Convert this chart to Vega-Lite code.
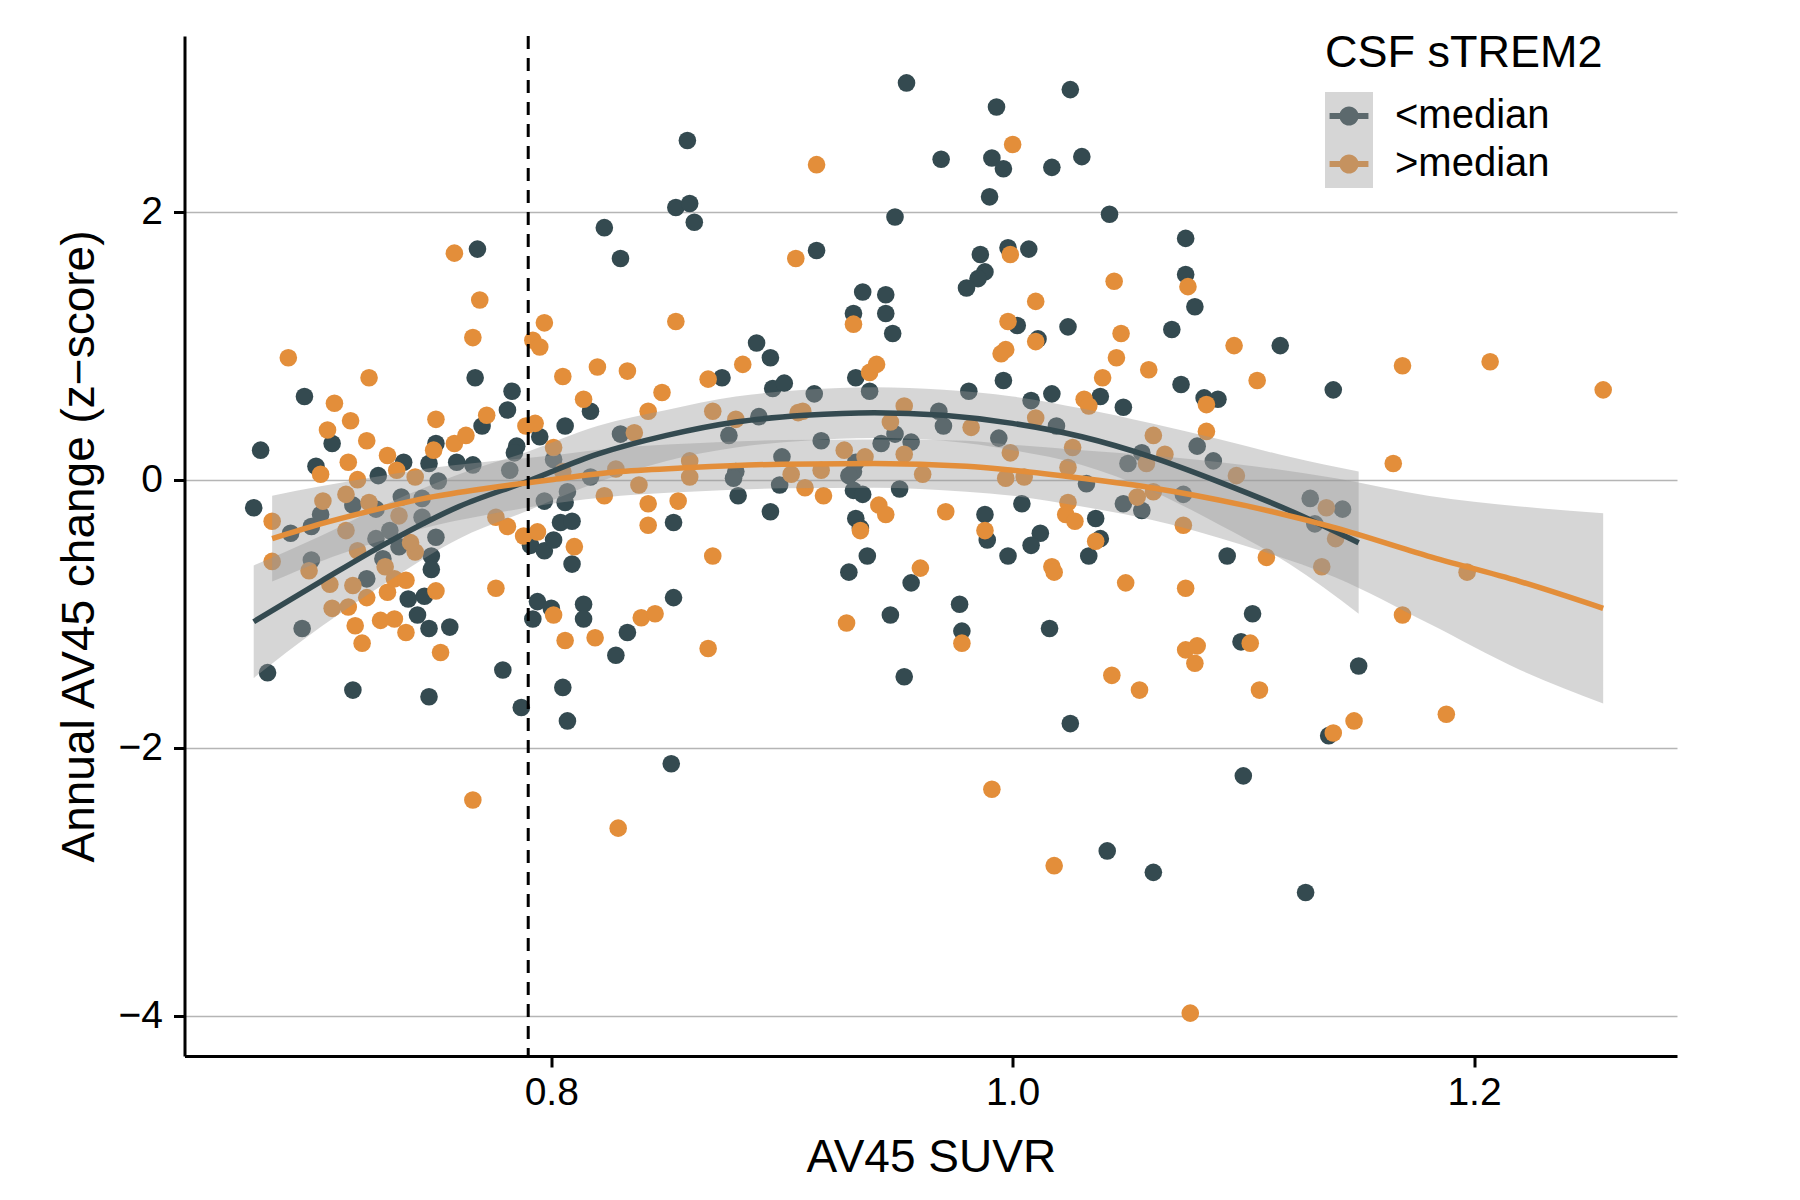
{
  "$schema": "https://vega.github.io/schema/vega-lite/v6.json",
  "autosize": {"type": "none"},
  "padding": {"left": 184.5, "top": 36, "right": 123, "bottom": 144},
  "width": 1492.5,
  "height": 1020,
  "background": "white",
  "datasets": {
    "pts": [
      {"suvr":0.674,"change":0.22,"group":"<median"},{"suvr":0.671,"change":-0.21,"group":"<median"},{"suvr":0.693,"change":0.62,"group":"<median"},
      {"suvr":0.687,"change":-0.40,"group":"<median"},{"suvr":0.696,"change":-0.35,"group":"<median"},{"suvr":0.696,"change":-0.60,"group":"<median"},
      {"suvr":0.698,"change":0.10,"group":"<median"},{"suvr":0.705,"change":0.27,"group":"<median"},{"suvr":0.714,"change":-0.19,"group":"<median"},
      {"suvr":0.700,"change":-0.26,"group":"<median"},{"suvr":0.725,"change":0.03,"group":"<median"},{"suvr":0.736,"change":0.13,"group":"<median"},
      {"suvr":0.724,"change":-0.22,"group":"<median"},{"suvr":0.735,"change":-0.13,"group":"<median"},{"suvr":0.744,"change":-0.14,"group":"<median"},
      {"suvr":0.751,"change":-0.01,"group":"<median"},{"suvr":0.750,"change":0.27,"group":"<median"},{"suvr":0.747,"change":0.12,"group":"<median"},
      {"suvr":0.759,"change":0.13,"group":"<median"},{"suvr":0.766,"change":0.11,"group":"<median"},{"suvr":0.770,"change":0.40,"group":"<median"},
      {"suvr":0.768,"change":1.72,"group":"<median"},{"suvr":0.767,"change":0.76,"group":"<median"},{"suvr":0.783,"change":0.66,"group":"<median"},
      {"suvr":0.781,"change":0.52,"group":"<median"},{"suvr":0.785,"change":0.25,"group":"<median"},{"suvr":0.784,"change":0.20,"group":"<median"},
      {"suvr":0.782,"change":0.07,"group":"<median"},{"suvr":0.795,"change":0.32,"group":"<median"},{"suvr":0.817,"change":0.51,"group":"<median"},
      {"suvr":0.806,"change":0.40,"group":"<median"},{"suvr":0.823,"change":1.88,"group":"<median"},{"suvr":0.830,"change":1.65,"group":"<median"},
      {"suvr":0.854,"change":2.03,"group":"<median"},{"suvr":0.860,"change":2.06,"group":"<median"},{"suvr":0.862,"change":1.92,"group":"<median"},
      {"suvr":0.801,"change":0.15,"group":"<median"},{"suvr":0.807,"change":-0.09,"group":"<median"},{"suvr":0.806,"change":-0.17,"group":"<median"},
      {"suvr":0.797,"change":-0.16,"group":"<median"},{"suvr":0.817,"change":0.02,"group":"<median"},{"suvr":0.830,"change":0.34,"group":"<median"},
      {"suvr":0.853,"change":-0.32,"group":"<median"},{"suvr":0.692,"change":-1.11,"group":"<median"},{"suvr":0.677,"change":-1.44,"group":"<median"},
      {"suvr":0.714,"change":-1.57,"group":"<median"},{"suvr":0.747,"change":-1.62,"group":"<median"},{"suvr":0.720,"change":-0.74,"group":"<median"},
      {"suvr":0.724,"change":-0.44,"group":"<median"},{"suvr":0.727,"change":-0.59,"group":"<median"},{"suvr":0.730,"change":-0.38,"group":"<median"},
      {"suvr":0.734,"change":-0.50,"group":"<median"},{"suvr":0.738,"change":-0.89,"group":"<median"},{"suvr":0.745,"change":-0.87,"group":"<median"},
      {"suvr":0.742,"change":-1.01,"group":"<median"},{"suvr":0.747,"change":-1.11,"group":"<median"},{"suvr":0.756,"change":-1.10,"group":"<median"},
      {"suvr":0.748,"change":-0.57,"group":"<median"},{"suvr":0.748,"change":-0.67,"group":"<median"},{"suvr":0.750,"change":-0.43,"group":"<median"},
      {"suvr":0.744,"change":-0.28,"group":"<median"},{"suvr":0.779,"change":-1.42,"group":"<median"},{"suvr":0.787,"change":-1.70,"group":"<median"},
      {"suvr":0.852,"change":-2.12,"group":"<median"},{"suvr":0.791,"change":-0.49,"group":"<median"},{"suvr":0.797,"change":-0.53,"group":"<median"},
      {"suvr":0.801,"change":-0.45,"group":"<median"},{"suvr":0.804,"change":-0.32,"group":"<median"},{"suvr":0.809,"change":-0.31,"group":"<median"},
      {"suvr":0.809,"change":-0.63,"group":"<median"},{"suvr":0.794,"change":-0.91,"group":"<median"},{"suvr":0.800,"change":-0.96,"group":"<median"},
      {"suvr":0.792,"change":-1.04,"group":"<median"},{"suvr":0.814,"change":-0.93,"group":"<median"},{"suvr":0.814,"change":-1.04,"group":"<median"},
      {"suvr":0.828,"change":-1.31,"group":"<median"},{"suvr":0.833,"change":-1.14,"group":"<median"},{"suvr":0.853,"change":-0.88,"group":"<median"},
      {"suvr":0.805,"change":-1.55,"group":"<median"},{"suvr":0.807,"change":-1.80,"group":"<median"},{"suvr":0.859,"change":2.53,"group":"<median"},
      {"suvr":0.954,"change":2.96,"group":"<median"},{"suvr":0.993,"change":2.78,"group":"<median"},{"suvr":1.025,"change":2.91,"group":"<median"},
      {"suvr":0.969,"change":2.39,"group":"<median"},{"suvr":0.991,"change":2.40,"group":"<median"},{"suvr":0.996,"change":2.32,"group":"<median"},
      {"suvr":1.017,"change":2.33,"group":"<median"},{"suvr":1.030,"change":2.41,"group":"<median"},{"suvr":0.990,"change":2.11,"group":"<median"},
      {"suvr":0.949,"change":1.96,"group":"<median"},{"suvr":1.042,"change":1.98,"group":"<median"},{"suvr":0.915,"change":1.71,"group":"<median"},
      {"suvr":0.998,"change":1.73,"group":"<median"},{"suvr":1.007,"change":1.72,"group":"<median"},{"suvr":0.986,"change":1.68,"group":"<median"},
      {"suvr":0.988,"change":1.55,"group":"<median"},{"suvr":0.985,"change":1.50,"group":"<median"},{"suvr":0.980,"change":1.43,"group":"<median"},
      {"suvr":0.935,"change":1.40,"group":"<median"},{"suvr":0.945,"change":1.38,"group":"<median"},{"suvr":0.931,"change":1.24,"group":"<median"},
      {"suvr":0.945,"change":1.24,"group":"<median"},{"suvr":0.948,"change":1.09,"group":"<median"},{"suvr":1.002,"change":1.15,"group":"<median"},
      {"suvr":1.011,"change":1.05,"group":"<median"},{"suvr":1.024,"change":1.14,"group":"<median"},{"suvr":0.996,"change":0.74,"group":"<median"},
      {"suvr":1.038,"change":0.62,"group":"<median"},{"suvr":1.048,"change":0.54,"group":"<median"},{"suvr":1.017,"change":0.64,"group":"<median"},
      {"suvr":1.008,"change":0.59,"group":"<median"},{"suvr":1.019,"change":0.40,"group":"<median"},{"suvr":0.981,"change":0.66,"group":"<median"},
      {"suvr":0.994,"change":0.31,"group":"<median"},{"suvr":1.056,"change":0.20,"group":"<median"},{"suvr":1.050,"change":0.12,"group":"<median"},
      {"suvr":0.889,"change":1.02,"group":"<median"},{"suvr":0.895,"change":0.91,"group":"<median"},{"suvr":0.874,"change":0.76,"group":"<median"},
      {"suvr":0.896,"change":0.68,"group":"<median"},{"suvr":0.901,"change":0.72,"group":"<median"},{"suvr":0.914,"change":0.64,"group":"<median"},
      {"suvr":0.932,"change":0.76,"group":"<median"},{"suvr":0.938,"change":0.66,"group":"<median"},{"suvr":0.890,"change":0.47,"group":"<median"},
      {"suvr":0.877,"change":0.33,"group":"<median"},{"suvr":0.917,"change":0.29,"group":"<median"},{"suvr":0.900,"change":0.17,"group":"<median"},
      {"suvr":0.932,"change":0.13,"group":"<median"},{"suvr":0.968,"change":0.51,"group":"<median"},{"suvr":0.970,"change":0.40,"group":"<median"},
      {"suvr":0.949,"change":0.34,"group":"<median"},{"suvr":0.956,"change":0.28,"group":"<median"},{"suvr":0.943,"change":0.27,"group":"<median"},
      {"suvr":0.880,"change":0.06,"group":"<median"},{"suvr":0.931,"change":0.06,"group":"<median"},{"suvr":0.879,"change":0.01,"group":"<median"},
      {"suvr":0.881,"change":-0.12,"group":"<median"},{"suvr":0.899,"change":-0.04,"group":"<median"},{"suvr":0.895,"change":-0.24,"group":"<median"},
      {"suvr":0.929,"change":0.03,"group":"<median"},{"suvr":0.931,"change":-0.08,"group":"<median"},{"suvr":0.935,"change":-0.11,"group":"<median"},
      {"suvr":0.932,"change":-0.29,"group":"<median"},{"suvr":0.934,"change":-0.36,"group":"<median"},{"suvr":0.951,"change":-0.07,"group":"<median"},
      {"suvr":0.937,"change":-0.57,"group":"<median"},{"suvr":0.929,"change":-0.69,"group":"<median"},{"suvr":0.956,"change":-0.77,"group":"<median"},
      {"suvr":0.947,"change":-1.01,"group":"<median"},{"suvr":0.977,"change":-0.93,"group":"<median"},{"suvr":0.978,"change":-1.13,"group":"<median"},
      {"suvr":0.953,"change":-1.47,"group":"<median"},{"suvr":0.988,"change":-0.26,"group":"<median"},{"suvr":0.989,"change":-0.45,"group":"<median"},
      {"suvr":0.998,"change":-0.57,"group":"<median"},{"suvr":1.004,"change":-0.18,"group":"<median"},{"suvr":1.012,"change":-0.40,"group":"<median"},
      {"suvr":1.008,"change":-0.49,"group":"<median"},{"suvr":1.016,"change":-1.11,"group":"<median"},{"suvr":1.036,"change":-0.29,"group":"<median"},
      {"suvr":1.038,"change":-0.44,"group":"<median"},{"suvr":1.033,"change":-0.57,"group":"<median"},{"suvr":1.025,"change":-1.82,"group":"<median"},
      {"suvr":1.041,"change":-2.77,"group":"<median"},{"suvr":1.061,"change":-2.93,"group":"<median"},{"suvr":1.032,"change":-0.03,"group":"<median"},
      {"suvr":1.048,"change":-0.18,"group":"<median"},{"suvr":1.056,"change":-0.23,"group":"<median"},{"suvr":1.075,"change":1.80,"group":"<median"},
      {"suvr":1.075,"change":1.53,"group":"<median"},{"suvr":1.079,"change":1.29,"group":"<median"},{"suvr":1.069,"change":1.12,"group":"<median"},
      {"suvr":1.116,"change":1.00,"group":"<median"},{"suvr":1.073,"change":0.71,"group":"<median"},{"suvr":1.083,"change":0.61,"group":"<median"},
      {"suvr":1.089,"change":0.60,"group":"<median"},{"suvr":1.139,"change":0.67,"group":"<median"},{"suvr":1.080,"change":0.25,"group":"<median"},
      {"suvr":1.087,"change":0.14,"group":"<median"},{"suvr":1.074,"change":-0.11,"group":"<median"},{"suvr":1.093,"change":-0.57,"group":"<median"},
      {"suvr":1.104,"change":-1.00,"group":"<median"},{"suvr":1.099,"change":-1.21,"group":"<median"},{"suvr":1.150,"change":-1.39,"group":"<median"},
      {"suvr":1.137,"change":-1.91,"group":"<median"},{"suvr":1.100,"change":-2.21,"group":"<median"},{"suvr":1.127,"change":-3.08,"group":"<median"},
      {"suvr":1.129,"change":-0.14,"group":"<median"},{"suvr":1.143,"change":-0.22,"group":"<median"},{"suvr":1.131,"change":-0.33,"group":"<median"},

      {"suvr":0.686,"change":0.91,"group":">median"},{"suvr":0.679,"change":-0.31,"group":">median"},{"suvr":0.679,"change":-0.61,"group":">median"},
      {"suvr":0.695,"change":-0.68,"group":">median"},{"suvr":0.700,"change":0.04,"group":">median"},{"suvr":0.703,"change":0.37,"group":">median"},
      {"suvr":0.706,"change":0.57,"group":">median"},{"suvr":0.713,"change":0.44,"group":">median"},{"suvr":0.712,"change":0.13,"group":">median"},
      {"suvr":0.721,"change":0.76,"group":">median"},{"suvr":0.720,"change":0.29,"group":">median"},{"suvr":0.716,"change":0.00,"group":">median"},
      {"suvr":0.711,"change":-0.11,"group":">median"},{"suvr":0.701,"change":-0.16,"group":">median"},{"suvr":0.729,"change":0.18,"group":">median"},
      {"suvr":0.733,"change":0.07,"group":">median"},{"suvr":0.741,"change":0.02,"group":">median"},{"suvr":0.721,"change":-0.17,"group":">median"},
      {"suvr":0.749,"change":0.22,"group":">median"},{"suvr":0.750,"change":0.45,"group":">median"},{"suvr":0.758,"change":0.27,"group":">median"},
      {"suvr":0.763,"change":0.33,"group":">median"},{"suvr":0.772,"change":0.48,"group":">median"},{"suvr":0.758,"change":1.69,"group":">median"},
      {"suvr":0.769,"change":1.34,"group":">median"},{"suvr":0.766,"change":1.06,"group":">median"},{"suvr":0.789,"change":0.40,"group":">median"},
      {"suvr":0.793,"change":0.42,"group":">median"},{"suvr":0.797,"change":1.17,"group":">median"},{"suvr":0.792,"change":1.04,"group":">median"},
      {"suvr":0.795,"change":0.99,"group":">median"},{"suvr":0.805,"change":0.77,"group":">median"},{"suvr":0.820,"change":0.84,"group":">median"},
      {"suvr":0.833,"change":0.81,"group":">median"},{"suvr":0.814,"change":0.60,"group":">median"},{"suvr":0.848,"change":0.65,"group":">median"},
      {"suvr":0.842,"change":0.51,"group":">median"},{"suvr":0.854,"change":1.18,"group":">median"},{"suvr":0.801,"change":0.24,"group":">median"},
      {"suvr":0.805,"change":0.06,"group":">median"},{"suvr":0.823,"change":-0.12,"group":">median"},{"suvr":0.828,"change":0.08,"group":">median"},
      {"suvr":0.836,"change":0.35,"group":">median"},{"suvr":0.838,"change":-0.04,"group":">median"},{"suvr":0.842,"change":-0.18,"group":">median"},
      {"suvr":0.842,"change":-0.34,"group":">median"},{"suvr":0.855,"change":-0.16,"group":">median"},{"suvr":0.860,"change":0.14,"group":">median"},
      {"suvr":0.860,"change":0.02,"group":">median"},{"suvr":0.711,"change":-0.38,"group":">median"},{"suvr":0.704,"change":-0.78,"group":">median"},
      {"suvr":0.705,"change":-0.96,"group":">median"},{"suvr":0.712,"change":-0.95,"group":">median"},{"suvr":0.714,"change":-0.79,"group":">median"},
      {"suvr":0.716,"change":-0.53,"group":">median"},{"suvr":0.715,"change":-1.09,"group":">median"},{"suvr":0.718,"change":-1.22,"group":">median"},
      {"suvr":0.720,"change":-0.88,"group":">median"},{"suvr":0.728,"change":-0.65,"group":">median"},{"suvr":0.729,"change":-0.84,"group":">median"},
      {"suvr":0.726,"change":-1.05,"group":">median"},{"suvr":0.732,"change":-1.04,"group":">median"},{"suvr":0.732,"change":-0.74,"group":">median"},
      {"suvr":0.737,"change":-0.75,"group":">median"},{"suvr":0.737,"change":-1.14,"group":">median"},{"suvr":0.734,"change":-0.27,"group":">median"},
      {"suvr":0.741,"change":-0.54,"group":">median"},{"suvr":0.739,"change":-0.47,"group":">median"},{"suvr":0.750,"change":-0.83,"group":">median"},
      {"suvr":0.752,"change":-1.29,"group":">median"},{"suvr":0.776,"change":-0.81,"group":">median"},{"suvr":0.766,"change":-2.39,"group":">median"},
      {"suvr":0.829,"change":-2.60,"group":">median"},{"suvr":0.776,"change":-0.28,"group":">median"},{"suvr":0.781,"change":-0.35,"group":">median"},
      {"suvr":0.788,"change":-0.42,"group":">median"},{"suvr":0.794,"change":-0.39,"group":">median"},{"suvr":0.810,"change":-0.50,"group":">median"},
      {"suvr":0.801,"change":-1.01,"group":">median"},{"suvr":0.806,"change":-1.20,"group":">median"},{"suvr":0.819,"change":-1.18,"group":">median"},
      {"suvr":0.839,"change":-1.03,"group":">median"},{"suvr":0.845,"change":-1.00,"group":">median"},{"suvr":0.915,"change":2.35,"group":">median"},
      {"suvr":1.000,"change":2.50,"group":">median"},{"suvr":0.906,"change":1.65,"group":">median"},{"suvr":0.999,"change":1.68,"group":">median"},
      {"suvr":1.044,"change":1.48,"group":">median"},{"suvr":0.931,"change":1.16,"group":">median"},{"suvr":1.010,"change":1.33,"group":">median"},
      {"suvr":0.998,"change":1.18,"group":">median"},{"suvr":1.010,"change":1.03,"group":">median"},{"suvr":1.047,"change":1.09,"group":">median"},
      {"suvr":0.995,"change":0.94,"group":">median"},{"suvr":0.997,"change":0.97,"group":">median"},{"suvr":1.045,"change":0.91,"group":">median"},
      {"suvr":1.059,"change":0.82,"group":">median"},{"suvr":1.039,"change":0.76,"group":">median"},{"suvr":1.031,"change":0.60,"group":">median"},
      {"suvr":1.033,"change":0.55,"group":">median"},{"suvr":1.010,"change":0.46,"group":">median"},{"suvr":0.999,"change":0.20,"group":">median"},
      {"suvr":1.026,"change":0.24,"group":">median"},{"suvr":1.024,"change":0.09,"group":">median"},{"suvr":1.061,"change":0.33,"group":">median"},
      {"suvr":1.058,"change":0.12,"group":">median"},{"suvr":0.883,"change":0.86,"group":">median"},{"suvr":0.868,"change":0.75,"group":">median"},
      {"suvr":0.938,"change":0.80,"group":">median"},{"suvr":0.941,"change":0.86,"group":">median"},{"suvr":0.870,"change":0.51,"group":">median"},
      {"suvr":0.880,"change":0.45,"group":">median"},{"suvr":0.907,"change":0.50,"group":">median"},{"suvr":0.909,"change":0.51,"group":">median"},
      {"suvr":0.927,"change":0.22,"group":">median"},{"suvr":0.936,"change":0.17,"group":">median"},{"suvr":0.953,"change":0.55,"group":">median"},
      {"suvr":0.947,"change":0.43,"group":">median"},{"suvr":0.982,"change":0.39,"group":">median"},{"suvr":0.953,"change":0.19,"group":">median"},
      {"suvr":0.904,"change":0.04,"group":">median"},{"suvr":0.917,"change":0.07,"group":">median"},{"suvr":0.961,"change":0.04,"group":">median"},
      {"suvr":0.910,"change":-0.06,"group":">median"},{"suvr":0.918,"change":-0.12,"group":">median"},{"suvr":0.934,"change":-0.38,"group":">median"},
      {"suvr":0.942,"change":-0.19,"group":">median"},{"suvr":0.945,"change":-0.26,"group":">median"},{"suvr":0.870,"change":-0.57,"group":">median"},
      {"suvr":0.960,"change":-0.66,"group":">median"},{"suvr":0.868,"change":-1.26,"group":">median"},{"suvr":0.928,"change":-1.07,"group":">median"},
      {"suvr":0.978,"change":-1.22,"group":">median"},{"suvr":0.971,"change":-0.24,"group":">median"},{"suvr":0.988,"change":-0.38,"group":">median"},
      {"suvr":1.017,"change":-0.65,"group":">median"},{"suvr":1.018,"change":-0.69,"group":">median"},{"suvr":1.024,"change":-0.17,"group":">median"},
      {"suvr":1.023,"change":-0.26,"group":">median"},{"suvr":1.027,"change":-0.31,"group":">median"},{"suvr":1.036,"change":-0.46,"group":">median"},
      {"suvr":1.049,"change":-0.77,"group":">median"},{"suvr":1.043,"change":-1.46,"group":">median"},{"suvr":1.055,"change":-1.57,"group":">median"},
      {"suvr":0.991,"change":-2.31,"group":">median"},{"suvr":1.018,"change":-2.88,"group":">median"},{"suvr":0.997,"change":0.01,"group":">median"},
      {"suvr":1.005,"change":0.02,"group":">median"},{"suvr":1.054,"change":-0.13,"group":">median"},{"suvr":1.061,"change":-0.09,"group":">median"},
      {"suvr":1.076,"change":1.44,"group":">median"},{"suvr":1.096,"change":1.00,"group":">median"},{"suvr":1.106,"change":0.74,"group":">median"},
      {"suvr":1.084,"change":0.56,"group":">median"},{"suvr":1.169,"change":0.85,"group":">median"},{"suvr":1.207,"change":0.88,"group":">median"},
      {"suvr":1.256,"change":0.67,"group":">median"},{"suvr":1.084,"change":0.36,"group":">median"},{"suvr":1.066,"change":0.19,"group":">median"},
      {"suvr":1.165,"change":0.12,"group":">median"},{"suvr":1.097,"change":0.03,"group":">median"},{"suvr":1.074,"change":-0.34,"group":">median"},
      {"suvr":1.110,"change":-0.58,"group":">median"},{"suvr":1.075,"change":-0.81,"group":">median"},{"suvr":1.103,"change":-1.22,"group":">median"},
      {"suvr":1.075,"change":-1.27,"group":">median"},{"suvr":1.080,"change":-1.24,"group":">median"},{"suvr":1.079,"change":-1.37,"group":">median"},
      {"suvr":1.107,"change":-1.57,"group":">median"},{"suvr":1.148,"change":-1.80,"group":">median"},{"suvr":1.139,"change":-1.89,"group":">median"},
      {"suvr":1.188,"change":-1.75,"group":">median"},{"suvr":1.136,"change":-0.21,"group":">median"},{"suvr":1.140,"change":-0.44,"group":">median"},
      {"suvr":1.134,"change":-0.65,"group":">median"},{"suvr":1.197,"change":-0.69,"group":">median"},{"suvr":1.169,"change":-1.01,"group":">median"},
      {"suvr":1.077,"change":-3.98,"group":">median"}
    ],
    "fits": [
      {"suvr":0.671,"fit":-1.06,"lo":-1.48,"hi":-0.64,"group":"<median"},
      {"suvr":0.70,"fit":-0.76,"lo":-1.10,"hi":-0.42,"group":"<median"},
      {"suvr":0.73,"fit":-0.46,"lo":-0.75,"hi":-0.17,"group":"<median"},
      {"suvr":0.76,"fit":-0.20,"lo":-0.44,"hi":0.04,"group":"<median"},
      {"suvr":0.79,"fit":-0.01,"lo":-0.23,"hi":0.21,"group":"<median"},
      {"suvr":0.82,"fit":0.19,"lo":-0.02,"hi":0.40,"group":"<median"},
      {"suvr":0.85,"fit":0.33,"lo":0.14,"hi":0.52,"group":"<median"},
      {"suvr":0.88,"fit":0.43,"lo":0.24,"hi":0.62,"group":"<median"},
      {"suvr":0.91,"fit":0.48,"lo":0.29,"hi":0.67,"group":"<median"},
      {"suvr":0.94,"fit":0.50,"lo":0.31,"hi":0.69,"group":"<median"},
      {"suvr":0.97,"fit":0.48,"lo":0.29,"hi":0.67,"group":"<median"},
      {"suvr":1.00,"fit":0.42,"lo":0.22,"hi":0.62,"group":"<median"},
      {"suvr":1.03,"fit":0.32,"lo":0.11,"hi":0.53,"group":"<median"},
      {"suvr":1.06,"fit":0.17,"lo":-0.08,"hi":0.42,"group":"<median"},
      {"suvr":1.09,"fit":-0.02,"lo":-0.34,"hi":0.30,"group":"<median"},
      {"suvr":1.12,"fit":-0.23,"lo":-0.63,"hi":0.17,"group":"<median"},
      {"suvr":1.15,"fit":-0.47,"lo":-1.00,"hi":0.06,"group":"<median"},
      {"suvr":0.679,"fit":-0.44,"lo":-0.76,"hi":-0.12,"group":">median"},
      {"suvr":0.70,"fit":-0.33,"lo":-0.61,"hi":-0.05,"group":">median"},
      {"suvr":0.72,"fit":-0.24,"lo":-0.49,"hi":0.01,"group":">median"},
      {"suvr":0.745,"fit":-0.14,"lo":-0.36,"hi":0.08,"group":">median"},
      {"suvr":0.77,"fit":-0.07,"lo":-0.27,"hi":0.13,"group":">median"},
      {"suvr":0.80,"fit":0.00,"lo":-0.18,"hi":0.18,"group":">median"},
      {"suvr":0.83,"fit":0.06,"lo":-0.12,"hi":0.24,"group":">median"},
      {"suvr":0.86,"fit":0.09,"lo":-0.09,"hi":0.27,"group":">median"},
      {"suvr":0.90,"fit":0.115,"lo":-0.065,"hi":0.295,"group":">median"},
      {"suvr":0.94,"fit":0.12,"lo":-0.06,"hi":0.30,"group":">median"},
      {"suvr":0.98,"fit":0.10,"lo":-0.09,"hi":0.29,"group":">median"},
      {"suvr":1.00,"fit":0.07,"lo":-0.12,"hi":0.26,"group":">median"},
      {"suvr":1.03,"fit":0.01,"lo":-0.20,"hi":0.22,"group":">median"},
      {"suvr":1.06,"fit":-0.06,"lo":-0.30,"hi":0.18,"group":">median"},
      {"suvr":1.10,"fit":-0.19,"lo":-0.49,"hi":0.11,"group":">median"},
      {"suvr":1.14,"fit":-0.36,"lo":-0.73,"hi":0.01,"group":">median"},
      {"suvr":1.18,"fit":-0.57,"lo":-1.07,"hi":-0.12,"group":">median"},
      {"suvr":1.22,"fit":-0.76,"lo":-1.42,"hi":-0.20,"group":">median"},
      {"suvr":1.256,"fit":-0.96,"lo":-1.67,"hi":-0.25,"group":">median"}
    ],
    "cut": [{"suvr": 0.79}]
  },
  "encoding": {
    "x": {
      "field": "suvr",
      "type": "quantitative",
      "title": "AV45 SUVR",
      "scale": {"domain": [0.641, 1.288], "nice": false, "zero": false},
      "axis": {
        "values": [0.8, 1.0, 1.2],
        "format": ".1f",
        "grid": false,
        "domainColor": "black",
        "domainWidth": 3,
        "tickColor": "black",
        "tickWidth": 3,
        "tickSize": 11,
        "labelFontSize": 39,
        "labelColor": "black",
        "labelPadding": 6,
        "titleFontSize": 46,
        "titleFontWeight": "normal",
        "titleColor": "black",
        "titlePadding": 23
      }
    }
  },
  "layer": [
    {
      "data": {"name": "pts"},
      "mark": {"type": "circle", "size": 310, "opacity": 1},
      "encoding": {
        "y": {
          "field": "change",
          "type": "quantitative",
          "title": "Annual AV45 change (z\u2212score)",
          "scale": {"domain": [-4.3, 3.31], "nice": false, "zero": false},
          "axis": {
            "values": [-4, -2, 0, 2],
            "format": "d",
            "grid": true,
            "gridColor": "#b5b5b5",
            "gridWidth": 1.5,
            "domainColor": "black",
            "domainWidth": 3,
            "tickColor": "black",
            "tickWidth": 3,
            "tickSize": 11,
            "labelFontSize": 39,
            "labelColor": "black",
            "labelPadding": 11,
            "titleFontSize": 46,
            "titleFontWeight": "normal",
            "titleColor": "black",
            "titlePadding": 15
          }
        },
        "fill": {
          "field": "group",
          "type": "nominal",
          "scale": {"domain": ["<median", ">median"], "range": ["#344a50", "#e38e3a"]},
          "legend": {
            "orient": "none",
            "legendX": 1140.5,
            "legendY": -5,
            "padding": 0,
            "title": "CSF sTREM2",
            "titleFontSize": 45,
            "titleFontWeight": "normal",
            "titleColor": "black",
            "titleLimit": 500,
            "titlePadding": 16,
            "symbolType": "M-0.81,-0.125L0.81,-0.125L0.81,0.125L-0.81,0.125ZM0.4,0A0.4,0.4,0,1,1,-0.4,0A0.4,0.4,0,1,1,0.4,0Z",
            "symbolSize": 2304,
            "symbolStrokeWidth": 0,
            "symbolOpacity": 1,
            "labelFontSize": 40,
            "labelColor": "black",
            "labelLimit": 400,
            "labelOffset": 22,
            "rowPadding": 4
          }
        }
      }
    },
    {
      "data": {"name": "fits"},
      "mark": {"type": "area", "opacity": 0.4, "interpolate": "monotone"},
      "encoding": {
        "y": {
          "field": "lo",
          "type": "quantitative",
          "title": "Annual AV45 change (z\u2212score)",
          "scale": {"domain": [-4.3, 3.31], "nice": false, "zero": false}
        },
        "y2": {"field": "hi"},
        "color": {
          "field": "group",
          "type": "nominal",
          "scale": {"domain": [">median", "<median"], "range": ["#999999", "#999999"]},
          "legend": {
            "orient": "none",
            "legendX": 1140.5,
            "legendY": -5,
            "padding": 0,
            "title": "CSF sTREM2",
            "titleFontSize": 45,
            "titleFontWeight": "normal",
            "titleOpacity": 0,
            "titleLimit": 500,
            "titlePadding": 16,
            "symbolType": "square",
            "symbolSize": 2304,
            "symbolStrokeWidth": 0,
            "symbolOpacity": 0.4,
            "labelFontSize": 40,
            "labelOpacity": 0,
            "labelLimit": 400,
            "labelOffset": 22,
            "rowPadding": 0
          }
        }
      }
    },
    {
      "data": {"name": "fits"},
      "mark": {"type": "line", "strokeWidth": 5.5, "interpolate": "monotone"},
      "encoding": {
        "y": {
          "field": "fit",
          "type": "quantitative",
          "title": "Annual AV45 change (z\u2212score)",
          "scale": {"domain": [-4.3, 3.31], "nice": false, "zero": false}
        },
        "stroke": {
          "field": "group",
          "type": "nominal",
          "scale": {"domain": ["<median", ">median"], "range": ["#344a50", "#e38e3a"]},
          "legend": null
        }
      }
    },
    {
      "data": {"name": "cut"},
      "mark": {"type": "rule", "color": "black", "strokeWidth": 3, "strokeDash": [13, 9]},
      "encoding": {}
    }
  ],
  "config": {
    "font": "Liberation Sans",
    "view": {"stroke": null}
  }
}
